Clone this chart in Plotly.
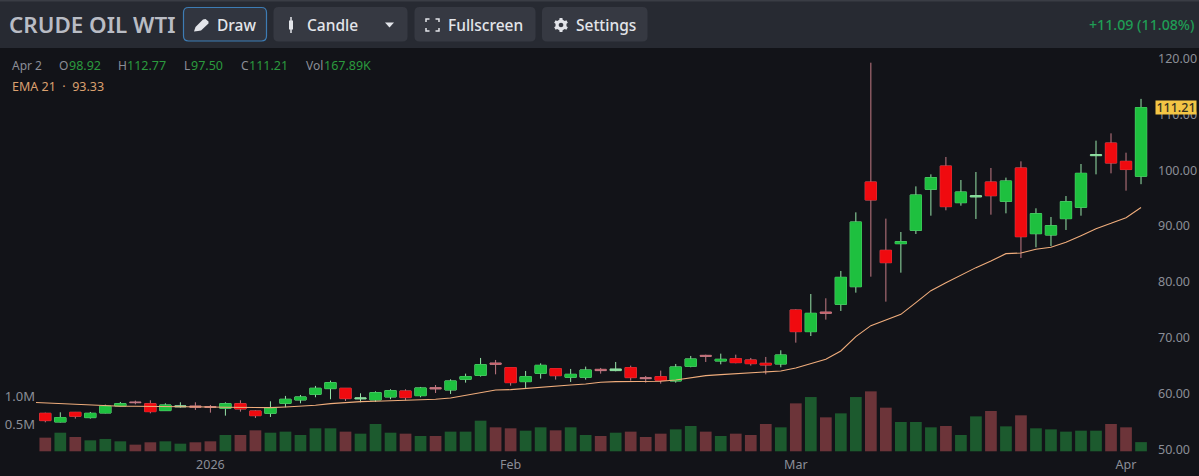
import math
import plotly.graph_objects as go

W, H = 1199, 476
FONT = "Noto Sans"

pre_session = ["2025-12-15"]
sessions = ["2025-12-16","2025-12-17","2025-12-18","2025-12-19","2025-12-22","2025-12-23","2025-12-24","2025-12-26","2025-12-29","2025-12-30","2025-12-31",
"2026-01-02","2026-01-05","2026-01-06","2026-01-07","2026-01-08","2026-01-09","2026-01-12","2026-01-13","2026-01-14","2026-01-15","2026-01-16","2026-01-20","2026-01-21","2026-01-22","2026-01-23","2026-01-26","2026-01-27","2026-01-28","2026-01-29","2026-01-30",
"2026-02-02","2026-02-03","2026-02-04","2026-02-05","2026-02-06","2026-02-09","2026-02-10","2026-02-11","2026-02-12","2026-02-13","2026-02-17","2026-02-18","2026-02-19","2026-02-20","2026-02-23","2026-02-24","2026-02-25","2026-02-26","2026-02-27",
"2026-03-02","2026-03-03","2026-03-04","2026-03-05","2026-03-06","2026-03-09","2026-03-10","2026-03-11","2026-03-12","2026-03-13","2026-03-16","2026-03-17","2026-03-18","2026-03-19","2026-03-20","2026-03-23","2026-03-24","2026-03-25","2026-03-26","2026-03-27","2026-03-30","2026-03-31","2026-04-01","2026-04-02"]

opens = [56.48,54.93,56.66,55.71,56.54,57.80,58.51,58.21,56.96,57.62,57.80,57.68,57.38,58.21,56.90,56.48,58.27,58.87,59.88,60.90,
60.96,59.05,58.87,59.41,60.48,59.64,61.08,60.66,62.57,63.28,65.49,64.66,62.15,63.64,64.48,62.93,62.93,64.36,64.12,64.66,
62.87,63.05,62.27,64.90,66.86,65.85,66.27,66.03,65.43,65.31,74.98,71.10,74.62,75.99,79.15,97.89,85.66,86.85,89.24,96.58,
100.75,94.19,95.21,97.89,94.43,100.40,88.64,88.40,91.33,93.36,102.60,104.87,101.59,98.92]
highs = [56.60,56.66,56.72,56.72,58.03,58.51,58.75,58.81,58.27,58.45,58.45,57.97,58.45,58.81,57.02,58.63,59.59,59.76,61.38,62.33,
60.96,60.06,60.42,60.78,60.78,61.20,61.55,62.57,63.58,66.39,66.03,64.66,64.06,65.43,64.48,64.42,64.84,64.60,65.67,65.02,
63.17,64.12,65.31,66.75,66.98,67.16,66.98,66.39,66.57,67.76,75.10,77.84,77.07,81.96,92.46,119.25,91.33,88.94,97.11,99.26,
102.37,98.25,99.68,100.40,98.67,101.59,93.18,91.63,95.38,101.11,105.29,106.60,103.14,112.77]
lows = [54.87,54.85,55.53,55.53,56.48,57.74,58.09,56.48,56.90,57.50,57.08,56.60,56.06,56.78,55.65,55.83,57.56,58.27,59.35,58.99,
58.69,58.45,58.51,58.99,58.81,59.35,60.12,59.94,61.97,63.05,63.46,61.43,61.02,62.69,62.51,62.09,62.51,63.58,64.00,62.33,
61.97,61.79,61.97,64.72,65.67,65.25,65.43,65.02,63.46,64.72,69.13,70.32,73.25,74.80,78.08,80.94,76.47,81.66,88.58,91.86,
92.82,93.65,91.27,92.04,92.28,84.29,86.20,86.43,89.30,91.86,99.26,99.44,96.34,97.50]
closes = [55.17,55.71,55.95,56.48,57.74,58.21,58.39,56.78,57.97,57.80,57.56,57.56,58.21,57.26,56.06,57.44,58.99,59.41,60.96,61.97,
59.11,59.23,60.18,60.54,59.29,61.02,60.84,62.27,63.05,65.19,65.25,61.97,63.05,65.07,63.22,63.46,64.24,64.12,64.42,62.87,
62.69,62.39,64.78,66.21,66.69,66.15,65.55,65.37,65.13,66.92,71.10,74.38,74.38,80.82,90.73,94.67,83.45,87.21,95.56,98.67,
93.48,96.10,95.44,95.44,98.07,88.10,92.22,90.07,94.37,99.44,102.78,101.29,100.12,111.21]
volumes_m = [0.25,0.341,0.262,0.201,0.226,0.183,0.122,0.165,0.183,0.14,0.165,0.183,0.299,0.299,0.384,0.341,0.36,0.299,
0.421,0.421,0.36,0.323,0.5,0.341,0.323,0.28,0.28,0.36,0.36,0.561,0.439,0.421,0.378,0.439,0.384,0.439,0.299,0.28,
0.341,0.36,0.262,0.323,0.402,0.463,0.36,0.28,0.323,0.299,0.5,0.439,0.878,0.994,0.622,0.695,0.994,1.098,0.799,0.537,
0.537,0.439,0.463,0.299,0.64,0.738,0.457,0.659,0.421,0.402,0.36,0.378,0.378,0.5,0.439,0.16789]
ema21 = [58.45,58.33,58.15,57.97,57.85,57.80,57.74,57.74,57.74,57.68,57.68,57.62,57.62,57.56,57.50,57.44,57.50,57.62,57.74,
57.91,58.21,58.45,58.57,58.63,58.69,58.75,58.87,58.99,59.23,59.70,60.18,60.66,60.72,60.96,61.20,61.38,61.55,61.73,
62.03,62.15,62.21,62.21,62.21,62.45,62.81,63.22,63.40,63.58,63.70,63.82,64.06,64.60,65.37,66.15,67.64,70.20,72.17,
73.19,74.20,76.29,78.44,79.87,81.24,82.56,83.75,85.06,85.18,85.84,86.20,87.09,88.28,89.54,90.49,91.51,93.33]

x_tick_dates = ["2026-01-02","2026-02-02","2026-03-02","2026-04-01"]
x_tick_labels = ["2026","Feb","Mar","Apr"]
price_ticks = [50,60,70,80,90,100,110,120]
volume_ticks = [0.5,1.0]
volume_tick_labels = ["0.5M","1.0M"]

BG = "#121318"; HEADER = "#272a32"; BTN = "#363942"; GREY = "#8b8e97"; TXT = "#e3e5ea"
UP = "#1ec03f"; DOWN = "#f00a0f"; UPW = "#96e4a8"; DOWNW = "#c27a84"
VUP = "#1c5a2e"; VDOWN = "#6c3439"; EMA = "#f0ad7c"; VALG = "#2b9a3e"; EMAT = "#dba06f"

px = lambda v: v / W
py = lambda v: 1 - v / H

def rrect(x0, y0, x1, y1, r, fill, line=None):
    a, b, c, d = px(x0), px(x1), py(y0), py(y1)
    rx, ry = r / W, r / H
    p = (f"M{a+rx},{c} L{b-rx},{c} Q{b},{c} {b},{c-ry} L{b},{d+ry} Q{b},{d} {b-rx},{d} "
         f"L{a+rx},{d} Q{a},{d} {a},{d+ry} L{a},{c-ry} Q{a},{c} {a+rx},{c} Z")
    return dict(type="path", xref="paper", yref="paper", path=p, fillcolor=fill,
                line=dict(color=line or fill, width=1.2 if line else 0), layer="above")

def poly(points, fill=None, line=None, width=0, closed=True):
    p = "M" + " L".join(f"{px(a)},{py(b)}" for a, b in points) + (" Z" if closed else "")
    return dict(type="path", xref="paper", yref="paper", path=p, fillcolor=fill if fill else "rgba(0,0,0,0)",
                line=dict(color=line if line else "rgba(0,0,0,0)", width=width), layer="above")

def gear(cx, cy, outer, inner, teeth=6):
    pts = []
    for k in range(teeth):
        base = 2 * math.pi * k / teeth - math.pi / 2
        for off, rad in ((-0.30, inner), (-0.20, outer), (0.20, outer), (0.30, inner)):
            pts.append((cx + rad * math.cos(base + off), cy + rad * math.sin(base + off)))
    return pts

def circle(cx, cy, r, steps=16):
    return [(cx + r * math.cos(2 * math.pi * k / steps), cy + r * math.sin(2 * math.pi * k / steps)) for k in range(steps)]

shapes = [
    dict(type="rect", xref="paper", yref="paper", x0=0, x1=1, y0=py(48), y1=1, fillcolor=HEADER, line=dict(width=0), layer="above"),
    dict(type="rect", xref="paper", yref="paper", x0=0, x1=1, y0=py(1.5), y1=1, fillcolor="#3a3d45", line=dict(width=0), layer="above"),
    rrect(183.5, 7.5, 266.5, 41, 5, "#31353f", "#3d7cb4"),
    rrect(273.5, 7, 407.5, 41.5, 5, BTN),
    rrect(414.5, 7, 535.5, 41.5, 5, BTN),
    rrect(542, 7, 647.5, 41.5, 5, BTN),
    # pencil / marker
    poly([(194,31.5),(195.5,27),(203,19.5),(205.5,19),(208.5,21.5),(208.5,23.5),(201,30.5),(198,31)], fill=TXT),
    # candle icon
    poly([(291,17),(291,33)], line=TXT, width=1.5, closed=False),
    poly([(289,20.5),(293,20.5),(293,29.5),(289,29.5)], fill=TXT),
    # dropdown
    poly([(385,22.5),(394,22.5),(389.5,27.5)], fill=TXT),
    # fullscreen corners
    poly([(426,22),(426,19),(429.5,19)], line=TXT, width=1.5, closed=False),
    poly([(435.5,19),(439,19),(439,22)], line=TXT, width=1.5, closed=False),
    poly([(439,28),(439,31),(435.5,31)], line=TXT, width=1.5, closed=False),
    poly([(429.5,31),(426,31),(426,28)], line=TXT, width=1.5, closed=False),
    # gear
    poly(gear(561, 25, 7.2, 5.6), fill=TXT),
    poly(circle(561, 25, 2.3), fill=BTN),
]

def note(x, y, text, color, size, family=FONT, anchor="left", weight=None):
    f = dict(color=color, size=size, family=family)
    if weight:
        f["weight"] = weight
    return dict(xref="paper", yref="paper", x=px(x), y=py(y), text=text, showarrow=False,
                xanchor=anchor, yanchor="middle", align="left", borderpad=0, borderwidth=0, font=f)

annotations = [
    note(9, 24.5, "CRUDE OIL WTI", "#b9bcc4", 22.4, weight=600),
    note(217, 24.5, "Draw", TXT, 15.5, weight=500),
    note(307, 24.5, "Candle", TXT, 15.5, weight=500),
    note(448, 24.5, "Fullscreen", TXT, 15.5, weight=500),
    note(576, 24.5, "Settings", TXT, 15.5, weight=500),
    note(1194, 24.5, "+11.09 (11.08%)", "#1f9d55", 14.2, anchor="right", weight=500),
    note(12, 65.5, "Apr 2", GREY, 12),
    note(59, 65.5, "O", GREY, 12), note(69, 65.5, "98.92", VALG, 12.5),
    note(118, 65.5, "H", GREY, 12), note(127, 65.5, "112.77", VALG, 12.5),
    note(184, 65.5, "L", GREY, 12), note(191, 65.5, "97.50", VALG, 12.5),
    note(241, 65.5, "C", GREY, 12), note(249, 65.5, "111.21", VALG, 12.5),
    note(306, 65.5, "Vol", GREY, 12), note(324, 65.5, "167.89K", VALG, 12.5),
    note(12, 86, "EMA 21  ·  93.33", EMAT, 12.5),
    dict(xref="paper", yref="y2", x=px(1155.2), y=closes[-1], text="111.21", showarrow=False,
         xanchor="left", yanchor="middle", bgcolor="#f3c545", borderpad=0, width=40, height=12.5,
         font=dict(color="#34301f", size=12.5, family=FONT, weight=500)),
]

fig = go.Figure()
bar_colors = [VUP if c >= o else VDOWN for o, c in zip(opens, closes)]
fig.add_trace(go.Bar(x=sessions, y=volumes_m, marker=dict(color=bar_colors, line=dict(width=0)),
                     yaxis="y", hoverinfo="skip", showlegend=False))
fig.add_trace(go.Scatter(x=pre_session + sessions, y=ema21, mode="lines", yaxis="y2",
                         line=dict(color=EMA, width=1.1), hoverinfo="skip", showlegend=False))
# full candles: wicks and thin outlines; near-flat candles stay as this thin pale line
fig.add_trace(go.Candlestick(x=sessions, open=opens, high=highs, low=lows, close=closes, yaxis="y2",
                             increasing=dict(line=dict(color=UPW, width=1), fillcolor=UP),
                             decreasing=dict(line=dict(color=DOWNW, width=1), fillcolor=DOWN),
                             whiskerwidth=0, hoverinfo="skip", showlegend=False))
# solid bodies over them, for every candle with a visible body
solid = [i for i in range(len(sessions)) if abs(opens[i] - closes[i]) >= 0.3]
fig.add_trace(go.Candlestick(x=[sessions[i] for i in solid],
                             open=[opens[i] for i in solid],
                             high=[max(opens[i], closes[i]) for i in solid],
                             low=[min(opens[i], closes[i]) for i in solid],
                             close=[closes[i] for i in solid], yaxis="y2",
                             increasing=dict(line=dict(color=UP, width=0.6), fillcolor=UP),
                             decreasing=dict(line=dict(color=DOWN, width=0.6), fillcolor=DOWN),
                             whiskerwidth=0, hoverinfo="skip", showlegend=False))

TOP, BOT = 48, 455
LEFT, RIGHT = 36, 1157
p_per_px = 70 / (449.5 - 58.5)
price_range = [120 - (BOT - 58.5) * p_per_px, 120 + (58.5 - TOP) * p_per_px]
vol_px = 54.6; vol_base = 451.3
vol_range = [-(BOT - vol_base) / vol_px, (vol_base - TOP) / vol_px]
x0 = 30.29; dx = 15.01

fig.update_layout(
    width=W, height=H, margin=dict(l=0, r=0, t=0, b=0, autoexpand=False), autosize=False,
    paper_bgcolor=BG, plot_bgcolor=BG, showlegend=False, shapes=shapes, annotations=annotations,
    bargap=0.22, boxgap=0.25, boxgroupgap=0, boxmode="overlay", barmode="overlay",
    font=dict(family=FONT, color=GREY, size=12.5),
    xaxis=dict(type="category", categoryorder="array", categoryarray=pre_session + sessions,
               domain=[px(LEFT), px(RIGHT)], range=[(LEFT - x0) / dx, (RIGHT - x0) / dx],
               tickmode="array", tickvals=x_tick_dates, ticktext=x_tick_labels, showgrid=False,
               zeroline=False, showline=False, ticks="", rangeslider=dict(visible=False),
               tickfont=dict(color=GREY, size=12.5), automargin=False),
    yaxis=dict(domain=[py(BOT), py(TOP)], range=vol_range, side="left", anchor="x", tickmode="array",
               tickvals=volume_ticks, ticktext=volume_tick_labels, showgrid=False, zeroline=False,
               tickfont=dict(color=GREY, size=13), ticks="", automargin=False),
    yaxis2=dict(domain=[py(BOT), py(TOP)], range=price_range, side="right", anchor="x", overlaying="y",
                tickmode="array", tickvals=price_ticks, ticktext=[f"{v:.2f}" for v in price_ticks],
                showgrid=False, zeroline=False, tickfont=dict(color=GREY, size=12.5), ticks="", automargin=False),
)

fig.write_html("out.html", config=dict(displayModeBar=False),
               post_script="document.body.style.margin='0';document.body.style.overflow='hidden';")
